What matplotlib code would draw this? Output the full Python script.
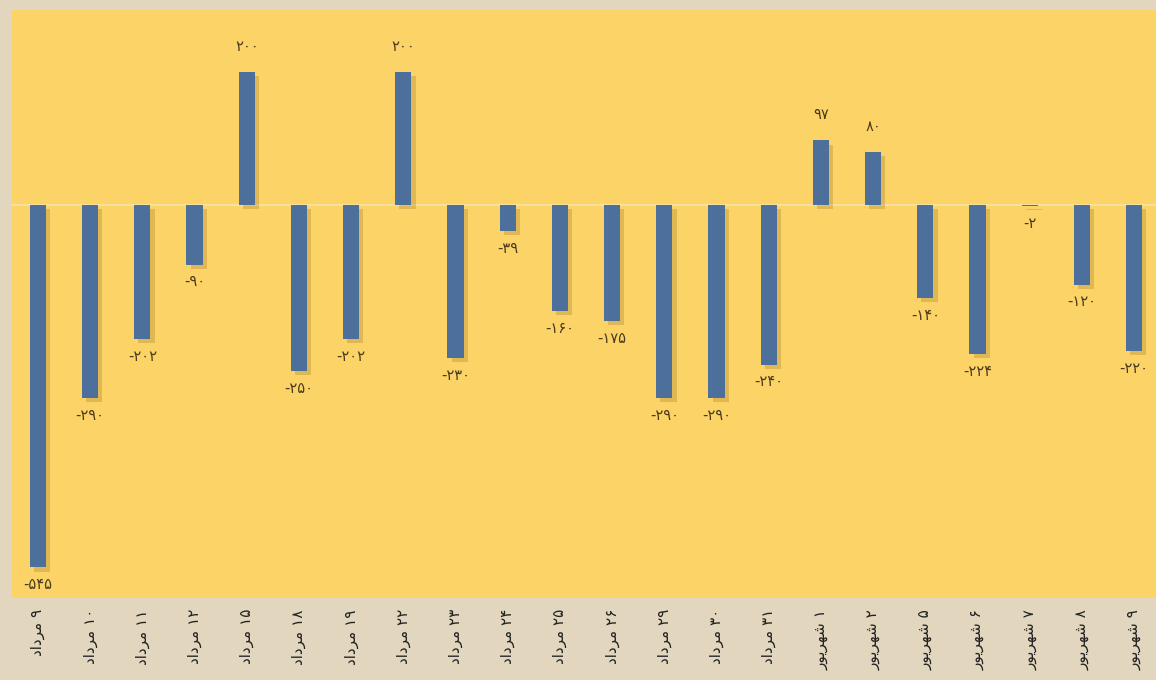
import matplotlib.pyplot as plt
import matplotlib.patheffects as pe
import numpy as np

# روزها و ماه ها
days = [9, 10, 11, 12, 15, 18, 19, 22, 23, 24, 25, 26, 29, 30, 31, 1, 2, 5, 6, 7, 8, 9]
months = ["mordad"] * 15 + ["shahrivar"] * 7
values = [-545, -290, -202, -90, 200, -250, -202, 200, -230, -39, -160, -175,
          -290, -290, -240, 97, 80, -140, -224, -2, -120, -220]

# matplotlib ne fait pas le shaping arabe : formes de présentation, ordre visuel
month_names = {
    "mordad": "\uFEA9\uFE8D\uFEA9\uFEAE\uFEE3",        # مرداد
    "shahrivar": "\uFEAD\uFEEE\uFBFE\uFEAE\uFEEC\uFEB7",  # شهریور
}

fa_digits = str.maketrans("0123456789", "۰۱۲۳۴۵۶۷۸۹")

def fa(n):
    return str(n).translate(fa_digits)

labels = [month_names[m] + " " + fa(d) for d, m in zip(days, months)]

bg = "#E2D7BE"
panel = "#FCD366"
bar_col = "#4C6F9C"
txt_col = "#4B3B1C"

fig = plt.figure(figsize=(11.56, 6.8), dpi=100, facecolor=bg)
ax = fig.add_axes([12 / 1156, 82 / 680, 1144 / 1156, 588 / 680])
ax.set_facecolor(panel)

x = np.arange(len(values))
bars = ax.bar(x, values, width=0.31, color=bar_col, zorder=3)
for b in bars:
    b.set_path_effects([pe.SimplePatchShadow(offset=(3, -3), shadow_rgbFace="#9c7a2a", alpha=0.3),
                        pe.Normal()])

ax.axhline(0, color="#F6E4AE", lw=1.2, zorder=2)

for xi, v in zip(x, values):
    if v >= 0:
        ax.annotate(fa(v), (xi, v), xytext=(0, 13), textcoords="offset points",
                    ha="center", va="bottom", fontsize=10.5, color=txt_col, family="DejaVu Sans")
    else:
        ax.annotate("-" + fa(-v), (xi, v), xytext=(0, -7), textcoords="offset points",
                    ha="center", va="top", fontsize=10.5, color=txt_col, family="DejaVu Sans")

ax.set_xlim(-0.498, 21.42)
ax.set_ylim(-591, 293)
ax.set_yticks([])
ax.set_xticks(x)
ax.set_xticklabels(labels, rotation=90, fontsize=11, color="#222222")
ax.tick_params(axis="x", length=0, pad=8)
for s in ax.spines.values():
    s.set_visible(False)

fig.savefig("out.png", dpi=100, facecolor=bg)
